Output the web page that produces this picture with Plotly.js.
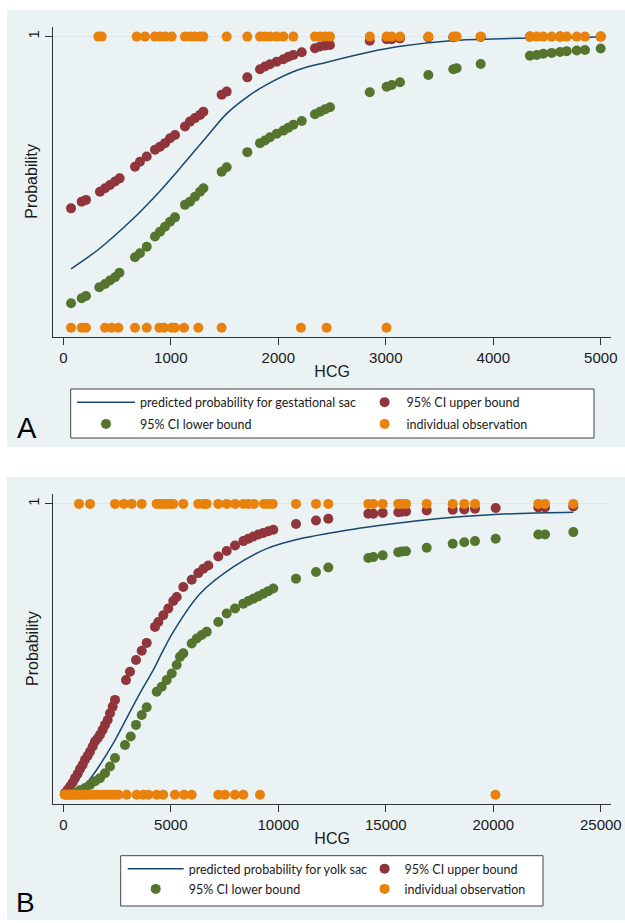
<!DOCTYPE html>
<html>
<head>
<meta charset="utf-8">
<script src="https://cdn.plot.ly/plotly-3.0.1.min.js"></script>
<style>html,body{margin:0;padding:0;background:#fff;}#chart{width:625px;height:923px;}</style>
</head>
<body>
<div id="chart"></div>
<script>
// ---------- Panel A (gestational sac) ----------
const obsA_x = [326, 357, 683, 760, 853, 900, 946, 1008, 1132, 1178, 1225, 1272, 1303, 1520, 1712, 1830, 1876, 1923, 1985, 2047, 2140, 2341, 2388, 2434, 2481, 2851, 3008, 3055, 3132, 3396, 3628, 3659, 3883, 4341, 4404, 4465, 4543, 4621, 4683, 4776, 4853, 4999,
                72, 171, 211, 388, 450, 512, 667, 776, 893, 937, 1008, 1039, 1123, 1256, 1473, 2211, 2450, 3007];
const obsA_y = [1,1,1,1,1,1,1,1,1,1,1,1,1,1,1,1,1,1,1,1,1,1,1,1,1,1,1,1,1,1,1,1,1,1,1,1,1,1,1,1,1,1,
                0,0,0,0,0,0,0,0,0,0,0,0,0,0,0,0,0,0];
const upA_x = [72, 171, 211, 341, 388, 434, 481, 524, 667, 713, 776, 853, 900, 946, 993, 1039, 1132, 1178, 1225, 1272, 1303, 1473, 1520, 1712, 1830, 1876, 1923, 1985, 2047, 2093, 2140, 2218, 2341, 2388, 2434, 2481, 2851, 3008, 3055, 3132, 3396, 3628, 3883, 4341, 4621, 4999];
const upA_y = [0.410, 0.433, 0.439, 0.467, 0.479, 0.490, 0.502, 0.513, 0.553, 0.570, 0.588, 0.611, 0.622, 0.634, 0.651, 0.662, 0.691, 0.708, 0.720, 0.731, 0.742, 0.800, 0.811, 0.860, 0.888, 0.897, 0.905, 0.914, 0.922, 0.931, 0.937, 0.946, 0.960, 0.966, 0.969, 0.971, 0.986, 0.991, 0.991, 0.994, 0.997, 0.998, 0.999, 1.0, 1.0, 1.0];
const lowA_x = [72, 171, 211, 335, 388, 434, 481, 522, 667, 713, 776, 853, 900, 946, 993, 1039, 1132, 1178, 1225, 1272, 1303, 1473, 1520, 1712, 1830, 1876, 1923, 1985, 2047, 2093, 2140, 2218, 2341, 2388, 2434, 2481, 2851, 3008, 3055, 3132, 3396, 3628, 3659, 3883, 4341, 4404, 4465, 4543, 4621, 4683, 4776, 4853, 4999];
const lowA_y = [0.084, 0.101, 0.109, 0.139, 0.150, 0.162, 0.173, 0.189, 0.242, 0.256, 0.278, 0.313, 0.330, 0.347, 0.364, 0.379, 0.422, 0.433, 0.450, 0.467, 0.479, 0.536, 0.551, 0.603, 0.634, 0.643, 0.654, 0.666, 0.677, 0.687, 0.697, 0.710, 0.733, 0.742, 0.750, 0.757, 0.809, 0.828, 0.834, 0.843, 0.868, 0.888, 0.891, 0.906, 0.934, 0.937, 0.941, 0.944, 0.947, 0.950, 0.952, 0.954, 0.959];
const predA_x = [72, 341, 651, 822, 915, 1086, 1334, 1525, 1712, 1892, 2180, 2451, 2859, 3119, 3601, 4231, 4999];
const predA_y = [0.202, 0.273, 0.375, 0.439, 0.476, 0.548, 0.656, 0.737, 0.793, 0.835, 0.885, 0.912, 0.948, 0.966, 0.986, 0.994, 0.999];
const ticksA = [0, 1000, 2000, 3000, 4000, 5000];

// ---------- Panel B (yolk sac) ----------
const obsB_x = [730, 1242, 2405, 2823, 3181, 3647, 4344, 4498, 4651, 4809, 4963, 5116, 5581, 6279, 6512, 6670, 7209, 7600, 7986, 8372, 8605, 8870, 9335, 9535, 9740, 10823, 11753, 12326, 14186, 14419, 14856, 15581, 15740, 15940, 16902, 18112, 18651, 19149, 22093, 22405, 23721,
                60, 120, 180, 250, 320, 400, 480, 560, 650, 740, 830, 930, 1030, 1150, 1270, 1400, 1550, 1700, 1850, 2000, 2150, 2300, 2450, 2560, 2946, 3411, 3721, 3953, 4340, 4651, 5194, 5614, 5970, 7209, 7519, 7984, 8372, 9147, 20100];
const obsB_y = [1,1,1,1,1,1,1,1,1,1,1,1,1,1,1,1,1,1,1,1,1,1,1,1,1,1,1,1,1,1,1,1,1,1,1,1,1,1,1,1,1,
                0,0,0,0,0,0,0,0,0,0,0,0,0,0,0,0,0,0,0,0,0,0,0,0,0,0,0,0,0,0,0,0,0,0,0,0,0,0,0];
const upB_x = [79, 204, 312, 437, 544, 670, 777, 902, 1009, 1135, 1242, 1367, 1474, 1600, 1707, 1833, 1940, 2065, 2172, 2298, 2405, 2916, 3102, 3381, 3647, 3879, 4265, 4419, 4651, 4884, 5116, 5274, 5581, 5972, 6279, 6512, 6744, 7209, 7600, 7986, 8372, 8605, 8837, 9070, 9302, 9535, 9768, 10823, 11753, 12326, 14186, 14419, 14856, 15581, 15740, 15940, 16902, 18112, 18651, 19149, 20111, 22093, 22405, 23721];
const upB_y = [0.006, 0.017, 0.028, 0.042, 0.057, 0.072, 0.088, 0.103, 0.120, 0.134, 0.148, 0.166, 0.183, 0.194, 0.206, 0.223, 0.240, 0.257, 0.280, 0.303, 0.326, 0.394, 0.423, 0.463, 0.495, 0.522, 0.577, 0.594, 0.617, 0.640, 0.666, 0.680, 0.714, 0.739, 0.762, 0.777, 0.788, 0.819, 0.838, 0.857, 0.872, 0.880, 0.888, 0.895, 0.900, 0.906, 0.911, 0.931, 0.943, 0.949, 0.966, 0.966, 0.969, 0.971, 0.973, 0.974, 0.977, 0.980, 0.981, 0.983, 0.986, 0.988, 0.988, 0.991];
const lowB_x = [79, 312, 544, 777, 1009, 1242, 1474, 1707, 1940, 2172, 2405, 2870, 3135, 3381, 3647, 3879, 4344, 4577, 4809, 5042, 5274, 5428, 5581, 5972, 6205, 6437, 6670, 7209, 7600, 7986, 8372, 8605, 8837, 9070, 9302, 9535, 9768, 10823, 11753, 12326, 14186, 14419, 14856, 15581, 15740, 15940, 16902, 18112, 18651, 19149, 20111, 22093, 22405, 23721];
const lowB_y = [0.001, 0.003, 0.008, 0.015, 0.023, 0.034, 0.046, 0.057, 0.074, 0.097, 0.126, 0.171, 0.200, 0.240, 0.274, 0.301, 0.354, 0.371, 0.394, 0.417, 0.446, 0.474, 0.486, 0.520, 0.537, 0.549, 0.560, 0.594, 0.623, 0.640, 0.657, 0.666, 0.674, 0.682, 0.691, 0.700, 0.709, 0.743, 0.766, 0.781, 0.814, 0.817, 0.823, 0.834, 0.836, 0.837, 0.849, 0.863, 0.868, 0.872, 0.880, 0.895, 0.895, 0.903];
const predB_x = [450, 623, 1088, 1707, 2327, 2949, 3567, 4186, 4651, 5116, 6358, 7907, 9460, 11009, 12405, 13488, 15042, 16591, 18140, 19693, 21242, 23721];
const predB_y = [0.004, 0.011, 0.040, 0.103, 0.177, 0.263, 0.349, 0.429, 0.497, 0.560, 0.691, 0.783, 0.846, 0.880, 0.900, 0.913, 0.929, 0.943, 0.954, 0.962, 0.967, 0.971];
const ticksB = [0, 5000, 10000, 15000, 20000, 25000];

const yTicks = [1];
const yTickText = ['1'];

const names = {
  predA: 'predicted probability for gestational sac',
  predB: 'predicted probability for yolk sac',
  up: '95% CI upper bound',
  low: '95% CI lower bound',
  obs: 'individual observation'
};

// ---------- styling ----------
const W = 625, H = 923;
const px = v => v / W;
const py = v => 1 - v / H;
const C = { navy: '#1a476f', maroon: '#90353b', green: '#55752f', orange: '#e8820c', bg: '#eaf2f3', axis: '#333333' };
const MS = 10;

function mk(color) { return { color: color, size: MS, line: { width: 0 } }; }

const data = [
  { x: predA_x, y: predA_y, type: 'scatter', mode: 'lines', line: { color: C.navy, width: 1.5, shape: 'spline', smoothing: 1 }, name: names.predA, legend: 'legend', legendgroup: 'a1', xaxis: 'x', yaxis: 'y' },
  { x: upA_x, y: upA_y, type: 'scatter', mode: 'markers', marker: mk(C.maroon), name: names.up, legend: 'legend2', legendgroup: 'a2', xaxis: 'x', yaxis: 'y' },
  { x: lowA_x, y: lowA_y, type: 'scatter', mode: 'markers', marker: mk(C.green), name: names.low, legend: 'legend', legendgroup: 'a3', xaxis: 'x', yaxis: 'y' },
  { x: obsA_x, y: obsA_y, type: 'scatter', mode: 'markers', marker: mk(C.orange), name: names.obs, legend: 'legend2', legendgroup: 'a4', xaxis: 'x', yaxis: 'y' },

  { x: predB_x, y: predB_y, type: 'scatter', mode: 'lines', line: { color: C.navy, width: 1.5, shape: 'spline', smoothing: 1 }, name: names.predB, legend: 'legend3', legendgroup: 'b1', xaxis: 'x2', yaxis: 'y2' },
  { x: upB_x, y: upB_y, type: 'scatter', mode: 'markers', marker: mk(C.maroon), name: names.up, legend: 'legend4', legendgroup: 'b2', xaxis: 'x2', yaxis: 'y2' },
  { x: lowB_x, y: lowB_y, type: 'scatter', mode: 'markers', marker: mk(C.green), name: names.low, legend: 'legend3', legendgroup: 'b3', xaxis: 'x2', yaxis: 'y2' },
  { x: obsB_x, y: obsB_y, type: 'scatter', mode: 'markers', marker: mk(C.orange), name: names.obs, legend: 'legend4', legendgroup: 'b4', xaxis: 'x2', yaxis: 'y2' }
];

const tickFont = { family: 'Liberation Sans, Arial, sans-serif', size: 15, color: '#1a1a1a' };
const titleFont = { family: 'Liberation Sans, Arial, sans-serif', size: 16, color: '#1a1a1a' };
const legFont = { family: 'Lato, Open Sans, sans-serif', size: 12.5, color: '#1a1a1a' };

function xax(range, ticks, anchor) {
  return {
    domain: [px(53.3), px(611)], range: range, anchor: anchor,
    tickvals: ticks, ticktext: ticks.map(String), ticks: 'outside', ticklen: 7, tickcolor: C.axis, tickwidth: 1,
    showline: true, linecolor: C.axis, linewidth: 1, showgrid: false, zeroline: false,
    tickfont: tickFont, title: { text: 'HCG', font: titleFont, standoff: 0 }
  };
}
function yax(domain, anchor) {
  return {
    domain: domain, range: [-0.033, 1.034], anchor: anchor,
    tickvals: yTicks, ticktext: yTickText, tickangle: -90, ticks: 'outside', ticklen: 7, tickcolor: C.axis,
    showline: true, linecolor: C.axis, linewidth: 1, showgrid: true, gridcolor: '#dce8ec', gridwidth: 1, zeroline: false,
    tickfont: tickFont
  };
}
function leg(x, top, iw, gap) {
  return { x: px(x), y: py(top), xanchor: 'left', yanchor: 'top', orientation: 'v', bgcolor: 'rgba(0,0,0,0)', borderwidth: 0,
    font: legFont, itemwidth: iw, traceorder: 'grouped', tracegroupgap: gap, itemclick: false };
}

const layout = {
  width: W, height: H,
  margin: { l: 0, r: 0, t: 0, b: 0, pad: 0 },
  paper_bgcolor: '#ffffff', plot_bgcolor: '#ffffff',
  showlegend: true,
  xaxis: xax([-93, 5095], ticksA, 'y'),
  yaxis: yax([py(337.3), py(26.7)], 'x'),
  xaxis2: xax([-465, 25474], ticksB, 'y2'),
  yaxis2: yax([py(804.3), py(494)], 'x2'),
  legend: leg(72, 387.5, 58, 2.5),
  legend2: leg(362.6, 387.5, 34, 2.5),
  legend3: leg(122.7, 854, 56, 1),
  legend4: leg(364.6, 854, 30, 1),
  shapes: [
    { type: 'rect', xref: 'paper', yref: 'paper', x0: px(7), x1: 1, y0: py(447), y1: py(10), fillcolor: C.bg, line: { width: 0 }, layer: 'below' },
    { type: 'rect', xref: 'paper', yref: 'paper', x0: px(7), x1: 1, y0: py(920), y1: py(477), fillcolor: C.bg, line: { width: 0 }, layer: 'below' },
    { type: 'rect', xref: 'paper', yref: 'paper', x0: px(70.7), x1: px(594), y0: py(438), y1: py(389), fillcolor: '#ffffff', line: { color: '#444444', width: 1 }, layer: 'below' },
    { type: 'rect', xref: 'paper', yref: 'paper', x0: px(120.7), x1: px(543), y0: py(906), y1: py(855.7), fillcolor: '#ffffff', line: { color: '#444444', width: 1 }, layer: 'below' }
  ],
  annotations: [
    { text: 'Probability', xref: 'paper', yref: 'paper', x: px(32), y: py(181.7), textangle: -90, showarrow: false, font: titleFont, xanchor: 'center', yanchor: 'middle' },
    { text: 'Probability', xref: 'paper', yref: 'paper', x: px(32), y: py(649), textangle: -90, showarrow: false, font: titleFont, xanchor: 'center', yanchor: 'middle' },
    { text: 'A', xref: 'paper', yref: 'paper', x: px(27), y: py(428), showarrow: false, font: { family: 'Liberation Sans, Arial, sans-serif', size: 29, color: '#000' }, xanchor: 'center', yanchor: 'middle' },
    { text: 'B', xref: 'paper', yref: 'paper', x: px(25), y: py(902), showarrow: false, font: { family: 'Liberation Sans, Arial, sans-serif', size: 28, color: '#000' }, xanchor: 'center', yanchor: 'middle' }
  ]
};

Plotly.newPlot('chart', data, layout, { staticPlot: true, displayModeBar: false });
</script>
</body>
</html>
